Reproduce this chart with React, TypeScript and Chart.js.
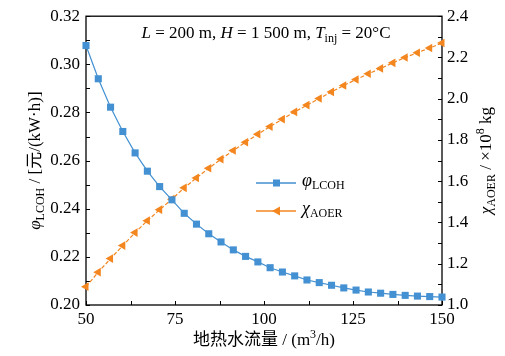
import { useEffect, useRef } from 'react';
import { Chart, registerables } from 'chart.js';
Chart.register(...registerables);

// 地热水流量 (m3/h)
const flow = [50, 53.45, 56.9, 60.34, 63.79, 67.24, 70.69, 74.14, 77.59, 81.03, 84.48, 87.93, 91.38, 94.83, 98.28, 101.72, 105.17, 108.62, 112.07, 115.52, 118.97, 122.41, 125.86, 129.31, 132.76, 136.21, 139.66, 143.1, 146.55, 150];
// φ_LCOH 元/(kW·h)
const lcoh = [0.3078, 0.294, 0.2822, 0.2721, 0.2632, 0.2556, 0.2492, 0.2437, 0.2381, 0.2336, 0.2296, 0.2262, 0.2229, 0.2202, 0.2179, 0.2155, 0.2137, 0.2121, 0.2104, 0.2093, 0.2082, 0.2071, 0.2062, 0.2054, 0.2049, 0.2044, 0.204, 0.2037, 0.2035, 0.2033];
// χ_AOER ×10^8 kg
const aoer = [1.089, 1.159, 1.225, 1.288, 1.351, 1.409, 1.462, 1.513, 1.568, 1.616, 1.663, 1.707, 1.749, 1.789, 1.828, 1.865, 1.901, 1.936, 1.969, 2.001, 2.033, 2.064, 2.093, 2.121, 2.147, 2.174, 2.2, 2.223, 2.246, 2.27];

const xTickMarks = [50, 62.5, 75, 87.5, 100, 112.5, 125, 137.5, 150];
const yTickMarks = [0.2, 0.21, 0.22, 0.23, 0.24, 0.25, 0.26, 0.27, 0.28, 0.29, 0.3, 0.31, 0.32];
const y1TickMarks = [1.0, 1.1, 1.2, 1.3, 1.4, 1.5, 1.6, 1.7, 1.8, 1.9, 2.0, 2.1, 2.2, 2.3, 2.4];

const BLUE = '#4390d2';
const ORANGE = '#f3861f';
const FAMILY = '"Liberation Serif", "Times New Roman", "Noto Sans CJK SC", serif';

type Seg = { t: string; it?: boolean; sub?: boolean; sup?: boolean };

function segFont(s: Seg, size: number) {
  const sz = s.sub || s.sup ? Math.round(size * 0.68) : size;
  return `${s.it ? 'italic ' : ''}${sz}px ${FAMILY}`;
}

function drawRich(ctx: CanvasRenderingContext2D, segs: Seg[], x: number, y: number, size: number, align: 'left' | 'center', rot = 0) {
  ctx.save();
  ctx.translate(x, y);
  ctx.rotate(rot);
  let total = 0;
  const widths = segs.map((s) => {
    ctx.font = segFont(s, size);
    const w = ctx.measureText(s.t).width;
    total += w;
    return w;
  });
  let cx = align === 'center' ? -total / 2 : 0;
  ctx.textBaseline = 'middle';
  ctx.textAlign = 'left';
  ctx.fillStyle = '#000';
  segs.forEach((s, i) => {
    ctx.font = segFont(s, size);
    const dy = s.sub ? size * 0.28 : s.sup ? -size * 0.35 : 0;
    ctx.fillText(s.t, cx, dy);
    cx += widths[i];
  });
  ctx.restore();
}

const decor = {
  id: 'decor',
  beforeDatasetsDraw(chart: any) {
    const ctx: CanvasRenderingContext2D = chart.ctx;
    const { left, right, top, bottom } = chart.chartArea;
    const xs = chart.scales.x, ys = chart.scales.y, y1 = chart.scales.y1;
    ctx.save();
    ctx.strokeStyle = '#000';
    ctx.lineWidth = 1.3;
    ctx.strokeRect(left, top, right - left, bottom - top);
    ctx.lineWidth = 1;
    ctx.beginPath();
    xTickMarks.forEach((v) => {
      const p = Math.round(xs.getPixelForValue(v)) + 0.5;
      ctx.moveTo(p, bottom); ctx.lineTo(p, bottom - 4);
    });
    yTickMarks.forEach((v) => {
      const p = Math.round(ys.getPixelForValue(v)) + 0.5;
      ctx.moveTo(left, p); ctx.lineTo(left + 4, p);
    });
    y1TickMarks.forEach((v) => {
      const p = Math.round(y1.getPixelForValue(v)) + 0.5;
      ctx.moveTo(right, p); ctx.lineTo(right - 4, p);
    });
    ctx.stroke();
    ctx.restore();
  },
  afterDraw(chart: any) {
    const ctx: CanvasRenderingContext2D = chart.ctx;
    const { left, right, top, bottom } = chart.chartArea;
    const midY = (top + bottom) / 2;
    // annotation
    drawRich(ctx, [
      { t: 'L', it: true }, { t: ' = 200 m, ' }, { t: 'H', it: true }, { t: ' = 1 500 m, ' },
      { t: 'T', it: true }, { t: 'inj', sub: true }, { t: ' = 20°C' },
    ], (left + right) / 2 + 2, 34, 17, 'center');
    // axis titles
    drawRich(ctx, [{ t: '地热水流量 / (m' }, { t: '3', sup: true }, { t: '/h)' }], (left + right) / 2, 341, 17, 'center');
    drawRich(ctx, [{ t: 'φ', it: true }, { t: 'LCOH', sub: true }, { t: ' / [元/(kW·h)]' }], 36, midY, 17, 'center', -Math.PI / 2);
    drawRich(ctx, [{ t: 'χ', it: true }, { t: 'AOER', sub: true }, { t: ' / ×10' }, { t: '8', sup: true }, { t: ' kg' }], 487, midY, 17, 'center', -Math.PI / 2);
    // legend
    ctx.save();
    ctx.lineWidth = 1.3;
    ctx.strokeStyle = BLUE;
    ctx.beginPath(); ctx.moveTo(256, 183); ctx.lineTo(296, 183); ctx.stroke();
    ctx.fillStyle = BLUE;
    ctx.fillRect(273, 179.5, 7, 7);
    ctx.strokeStyle = ORANGE;
    ctx.beginPath(); ctx.moveTo(256, 211); ctx.lineTo(296, 211); ctx.stroke();
    ctx.fillStyle = ORANGE;
    ctx.beginPath(); ctx.moveTo(272, 211); ctx.lineTo(280, 206.5); ctx.lineTo(280, 215.5); ctx.closePath(); ctx.fill();
    ctx.restore();
    drawRich(ctx, [{ t: 'φ', it: true }, { t: 'LCOH', sub: true }], 302, 181, 18, 'left');
    drawRich(ctx, [{ t: 'χ', it: true }, { t: 'AOER', sub: true }], 302, 209, 18, 'left');
  },
};

export default function App() {
  const ref = useRef<HTMLCanvasElement>(null);
  useEffect(() => {
    const font = { family: FAMILY, size: 17 };
    const grid = { display: false, drawTicks: false };
    const chart = new Chart(ref.current!, {
      type: 'line',
      data: {
        datasets: [
          {
            label: 'LCOH',
            data: flow.map((x, i) => ({ x, y: lcoh[i] })),
            yAxisID: 'y',
            borderColor: BLUE,
            backgroundColor: BLUE,
            borderWidth: 1.2,
            pointStyle: 'rect',
            pointRadius: 5,
            pointBorderWidth: 0,
            clip: false as any,
          },
          {
            label: 'AOER',
            data: flow.map((x, i) => ({ x, y: aoer[i] })),
            yAxisID: 'y1',
            borderColor: ORANGE,
            backgroundColor: ORANGE,
            borderWidth: 1.2,
            borderDash: [4, 2],
            pointStyle: 'triangle',
            pointRotation: -90,
            pointRadius: 5,
            pointBorderWidth: 0,
            clip: false as any,
          },
        ],
      },
      options: {
        responsive: false,
        animation: false,
        devicePixelRatio: 1,
        layout: { padding: { top: 16, left: 0, right: 0, bottom: 0 } },
        plugins: { legend: { display: false }, tooltip: { enabled: false } },
        scales: {
          x: {
            type: 'linear', min: 50, max: 150,
            ticks: { stepSize: 25, font, color: '#000', padding: 4, maxRotation: 0, callback: (v: any) => String(v) },
            grid, border: { display: false },
            afterFit: (s: any) => { s.height = 51; },
          },
          y: {
            type: 'linear', position: 'left', min: 0.2, max: 0.32,
            ticks: { stepSize: 0.02, font, color: '#000', padding: 6, callback: (v: any) => Number(v).toFixed(2) },
            grid, border: { display: false },
            afterFit: (s: any) => { s.width = 86; },
          },
          y1: {
            type: 'linear', position: 'right', min: 1.0, max: 2.4,
            ticks: { stepSize: 0.2, font, color: '#000', padding: 5, callback: (v: any) => Number(v).toFixed(1) },
            grid, border: { display: false },
            afterFit: (s: any) => { s.width = 63; },
          },
        },
      },
      plugins: [decor],
    });
    return () => chart.destroy();
  }, []);
  return (
    <div style={{ position: 'fixed', left: 0, top: 0, width: 505, height: 356, background: '#fff' }}>
      <canvas ref={ref} width={505} height={356} style={{ width: 505, height: 356, display: 'block' }} />
    </div>
  );
}
